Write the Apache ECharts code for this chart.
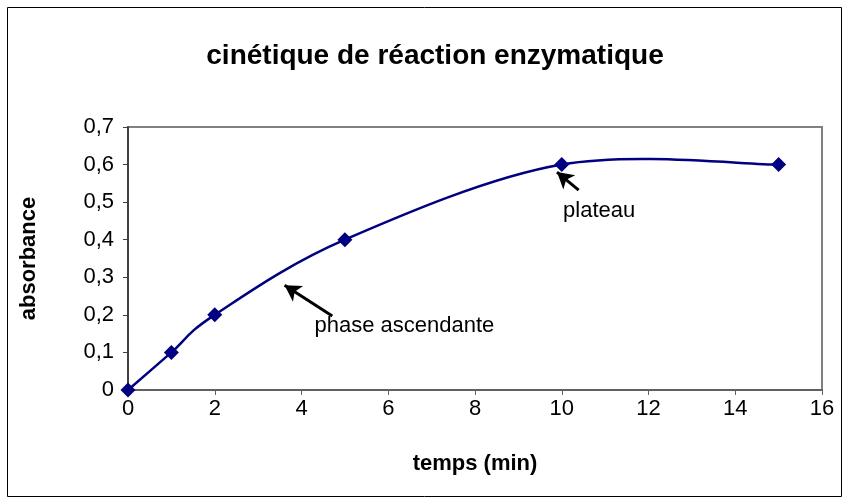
<!DOCTYPE html>
<html>
<head>
<meta charset="utf-8">
<script src="https://cdn.jsdelivr.net/npm/echarts@6/dist/echarts.min.js"></script>
<style>
    html, body { margin: 0; padding: 0; background: #fff; }
    #chart { width: 848px; height: 503px; }
</style>
</head>
<body>
<div id="chart"></div>
<script>
    // données
    const temps = [0, 1, 2, 5, 10, 15];
    const absorbance = [0, 0.1, 0.2, 0.4, 0.6, 0.6];
    const xTicks = [0, 2, 4, 6, 8, 10, 12, 14, 16];
    const yTicks = [0, 0.1, 0.2, 0.3, 0.4, 0.5, 0.6, 0.7];
    // annotations (coordonnées dans le repère des données)
    const arrowPhase = [[4.71, 0.197], [3.61, 0.279]];
    const arrowPlateau = [[10.39, 0.532], [9.89, 0.58]];
    const notes = [
        { text: 'phase ascendante', at: [4.3, 0.17] },
        { text: 'plateau', at: [10.03, 0.476] }
    ];

    const font = '"Liberation Sans", Arial, sans-serif';
    const points = temps.map((t, i) => [t, absorbance[i]]);
    const chart = echarts.init(document.getElementById('chart'));

    // courbe lissée façon Excel (Catmull-Rom -> Bézier), calculée en pixels
    function renderSegment(params, api) {
        const i = params.dataIndex;
        if (i >= points.length - 1) return null;
        const p = k => api.coord(points[Math.max(0, Math.min(points.length - 1, k))]);
        const p0 = p(i - 1), p1 = p(i), p2 = p(i + 1), p3 = p(i + 2);
        return {
            type: 'bezierCurve',
            shape: {
                x1: p1[0], y1: p1[1],
                cpx1: p1[0] + (p2[0] - p0[0]) / 6, cpy1: p1[1] + (p2[1] - p0[1]) / 6,
                cpx2: p2[0] - (p3[0] - p1[0]) / 6, cpy2: p2[1] - (p3[1] - p1[1]) / 6,
                x2: p2[0], y2: p2[1]
            },
            style: { fill: null, stroke: '#000080', lineWidth: 2.5 }
        };
    }

    const option = {
        animation: false,
        backgroundColor: '#fff',
        title: {
            text: 'cinétique de réaction enzymatique',
            left: 430,
            textAlign: 'center',
            top: 37,
            textStyle: { fontFamily: font, fontSize: 28, fontWeight: 'bold', color: '#000' }
        },
        graphic: [{
            type: 'rect',
            shape: { x: 7.5, y: 7.5, width: 834, height: 489 },
            style: { fill: 'none', stroke: '#000', lineWidth: 1 },
            silent: true
        }],
        grid: {
            left: 128, right: 26, top: 127, bottom: 113,
            show: true, borderColor: '#808080', borderWidth: 2
        },
        xAxis: {
            type: 'value',
            min: 0, max: 16, interval: 2,
            name: 'temps (min)',
            nameLocation: 'middle',
            nameGap: 63,
            nameTextStyle: { fontFamily: font, fontSize: 22, fontWeight: 'bold', color: '#000' },
            axisLine: { lineStyle: { color: '#606060', width: 2 } },
            axisTick: { show: true, length: 5, lineStyle: { color: '#606060', width: 1 } },
            axisLabel: {
                fontFamily: font, fontSize: 22, color: '#000', margin: 8,
                formatter: v => xTicks.includes(v) ? String(v) : ''
            },
            splitLine: { show: false }
        },
        yAxis: {
            type: 'value',
            min: 0, max: 0.7, interval: 0.1,
            name: 'absorbance',
            nameLocation: 'middle',
            nameGap: 88,
            nameRotate: 90,
            nameTextStyle: { fontFamily: font, fontSize: 22, fontWeight: 'bold', color: '#000' },
            axisLine: { show: true, lineStyle: { color: '#404040', width: 2 } },
            axisTick: { show: true, length: 5, lineStyle: { color: '#404040', width: 1 } },
            axisLabel: {
                fontFamily: font, fontSize: 22, color: '#000', margin: 14,
                formatter: v => {
                    const t = yTicks.find(k => Math.abs(k - v) < 1e-9);
                    return t === undefined ? '' : String(Math.round(t * 10) / 10).replace('.', ',');
                }
            },
            splitLine: { show: false }
        },
        series: [{
            name: 'courbe',
            type: 'custom',
            data: points,
            encode: { x: 0, y: 1 },
            renderItem: renderSegment,
            silent: true,
            z: 2
        }, {
            name: 'absorbance',
            type: 'scatter',
            data: points,
            symbol: 'diamond',
            symbolSize: 15,
            itemStyle: { color: '#000080', opacity: 1 },
            z: 3,
            markLine: {
                silent: true,
                symbol: ['none', 'arrow'],
                symbolSize: [14, 16],
                label: { show: false },
                lineStyle: { color: '#000', width: 3, type: 'solid' },
                data: [
                    [{ coord: arrowPhase[0] }, { coord: arrowPhase[1] }],
                    [{ coord: arrowPlateau[0] }, { coord: arrowPlateau[1] }]
                ]
            },
            markPoint: {
                silent: true,
                symbol: 'circle',
                symbolSize: 0,
                data: notes.map(n => ({
                    coord: n.at,
                    label: {
                        show: true, formatter: n.text, position: 'right', distance: 0,
                        fontFamily: font, fontSize: 22, color: '#000'
                    }
                }))
            }
        }]
    };

    chart.setOption(option);
</script>
</body>
</html>
